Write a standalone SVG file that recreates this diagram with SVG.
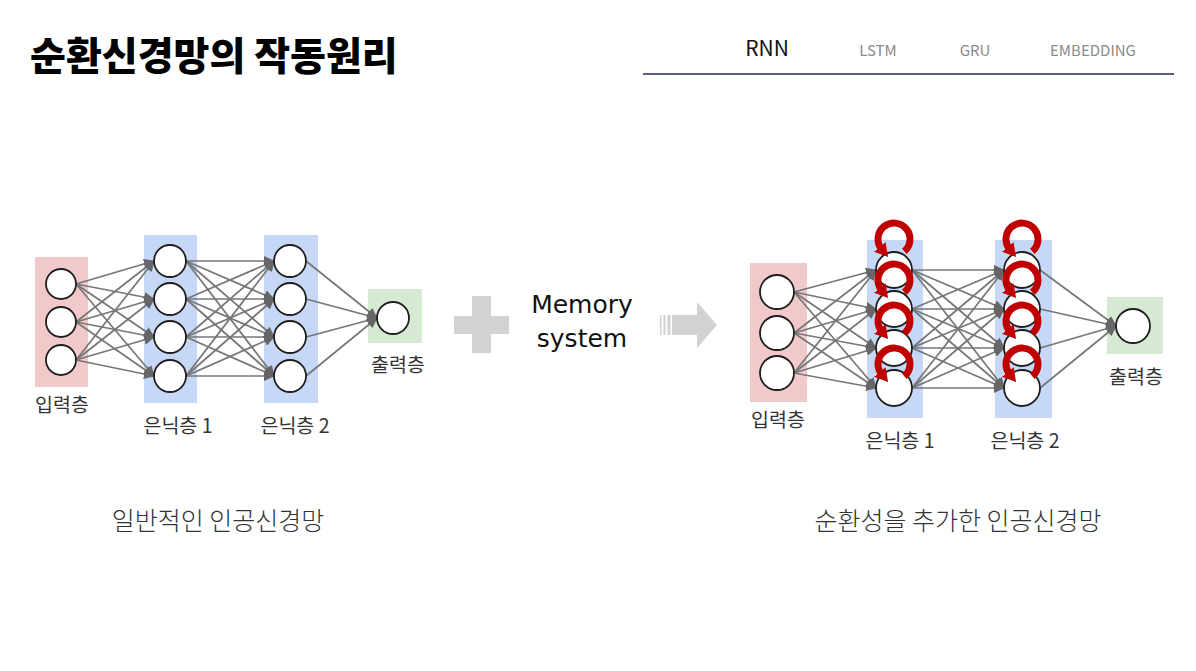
<svg xmlns="http://www.w3.org/2000/svg" width="1196" height="671" viewBox="0 0 1196 671">
<style>
.kr{font-family:"Noto Sans CJK KR","Noto Sans",sans-serif;}
.lbl{font-family:"Noto Sans CJK KR",sans-serif;font-size:19.5px;fill:#333;text-anchor:middle;}
.cap{font-family:"Noto Sans CJK KR",sans-serif;font-size:25px;font-weight:300;fill:#333;text-anchor:middle;}
.nav{font-family:"Noto Sans CJK KR","Noto Sans",sans-serif;font-size:15px;fill:#8a8a8a;text-anchor:middle;}
.e{stroke:#767676;stroke-width:1.7;fill:none;marker-end:url(#ah);}
.n{fill:#fff;stroke:#1e1e1e;stroke-width:1.8;}
.loop{fill:none;stroke:#c00000;stroke-width:7;marker-end:url(#rh);}
.pink{fill:#f2c9ca;}
.blue{fill:#c6d8f5;}
.green{fill:#d6e9d2;}
.gray{fill:#d2d2d2;}
</style>
<defs>
<marker id="ah" markerUnits="userSpaceOnUse" markerWidth="11" markerHeight="10" refX="10" refY="5" orient="auto">
<path d="M0,0 L11,5 L0,10 z" fill="#666"/>
</marker>
<marker id="rh" markerUnits="userSpaceOnUse" markerWidth="15" markerHeight="15" refX="3" refY="7.5" orient="auto">
<path d="M0,0 L13,7.5 L0,15 z" fill="#c00000"/>
</marker>
</defs>
<rect width="1196" height="671" fill="#fff"/>

<g id="title">
<text x="30" y="70" class="kr" font-size="39" font-weight="900" fill="#000">순환신경망의 작동원리</text>
</g>
<g id="nav">
<text x="767" y="56" class="nav" style="font-size:21px;fill:#111">RNN</text>
<text x="878" y="56" class="nav">LSTM</text>
<text x="975" y="56" class="nav">GRU</text>
<text x="1093" y="56" class="nav">EMBEDDING</text>
<line x1="643" y1="74" x2="1174" y2="74" stroke="#252b58" stroke-width="1.6"/>
</g>

<g id="layers">
<rect class="pink" x="35" y="257" width="53" height="130"/>
<rect class="blue" x="144" y="235" width="53" height="168"/>
<rect class="blue" x="264" y="235" width="54" height="168"/>
<rect class="green" x="368" y="289" width="54" height="54"/>
<rect class="pink" x="750" y="263" width="57" height="139"/>
<rect class="blue" x="867" y="240" width="56" height="178"/>
<rect class="blue" x="995" y="240" width="57" height="178"/>
<rect class="green" x="1107" y="297" width="56" height="57"/>
</g>

<g id="connectors">
<line class="e" x1="76" y1="284" x2="154" y2="261"/><line class="e" x1="76" y1="284" x2="154" y2="299"/><line class="e" x1="76" y1="284" x2="154" y2="337"/><line class="e" x1="76" y1="284" x2="154" y2="376"/>
<line class="e" x1="76" y1="322" x2="154" y2="261"/><line class="e" x1="76" y1="322" x2="154" y2="299"/><line class="e" x1="76" y1="322" x2="154" y2="337"/><line class="e" x1="76" y1="322" x2="154" y2="376"/>
<line class="e" x1="76" y1="360" x2="154" y2="261"/><line class="e" x1="76" y1="360" x2="154" y2="299"/><line class="e" x1="76" y1="360" x2="154" y2="337"/><line class="e" x1="76" y1="360" x2="154" y2="376"/>
<line class="e" x1="186" y1="261" x2="274" y2="261"/><line class="e" x1="186" y1="261" x2="274" y2="299"/><line class="e" x1="186" y1="261" x2="274" y2="337"/><line class="e" x1="186" y1="261" x2="274" y2="376"/>
<line class="e" x1="186" y1="299" x2="274" y2="261"/><line class="e" x1="186" y1="299" x2="274" y2="299"/><line class="e" x1="186" y1="299" x2="274" y2="337"/><line class="e" x1="186" y1="299" x2="274" y2="376"/>
<line class="e" x1="186" y1="337" x2="274" y2="261"/><line class="e" x1="186" y1="337" x2="274" y2="299"/><line class="e" x1="186" y1="337" x2="274" y2="337"/><line class="e" x1="186" y1="337" x2="274" y2="376"/>
<line class="e" x1="186" y1="376" x2="274" y2="261"/><line class="e" x1="186" y1="376" x2="274" y2="299"/><line class="e" x1="186" y1="376" x2="274" y2="337"/><line class="e" x1="186" y1="376" x2="274" y2="376"/>
<line class="e" x1="306" y1="261" x2="377" y2="318"/><line class="e" x1="306" y1="299" x2="377" y2="318"/><line class="e" x1="306" y1="337" x2="377" y2="318"/><line class="e" x1="306" y1="376" x2="377" y2="318"/>
<line class="e" x1="794" y1="292" x2="876" y2="270"/><line class="e" x1="794" y1="292" x2="876" y2="309"/><line class="e" x1="794" y1="292" x2="876" y2="348"/><line class="e" x1="794" y1="292" x2="876" y2="388"/>
<line class="e" x1="794" y1="333" x2="876" y2="270"/><line class="e" x1="794" y1="333" x2="876" y2="309"/><line class="e" x1="794" y1="333" x2="876" y2="348"/><line class="e" x1="794" y1="333" x2="876" y2="388"/>
<line class="e" x1="794" y1="373" x2="876" y2="270"/><line class="e" x1="794" y1="373" x2="876" y2="309"/><line class="e" x1="794" y1="373" x2="876" y2="348"/><line class="e" x1="794" y1="373" x2="876" y2="388"/>
<line class="e" x1="912" y1="270" x2="1004" y2="270"/><line class="e" x1="912" y1="270" x2="1004" y2="309"/><line class="e" x1="912" y1="270" x2="1004" y2="348"/><line class="e" x1="912" y1="270" x2="1004" y2="388"/>
<line class="e" x1="912" y1="309" x2="1004" y2="270"/><line class="e" x1="912" y1="309" x2="1004" y2="309"/><line class="e" x1="912" y1="309" x2="1004" y2="348"/><line class="e" x1="912" y1="309" x2="1004" y2="388"/>
<line class="e" x1="912" y1="348" x2="1004" y2="270"/><line class="e" x1="912" y1="348" x2="1004" y2="309"/><line class="e" x1="912" y1="348" x2="1004" y2="348"/><line class="e" x1="912" y1="348" x2="1004" y2="388"/>
<line class="e" x1="912" y1="388" x2="1004" y2="270"/><line class="e" x1="912" y1="388" x2="1004" y2="309"/><line class="e" x1="912" y1="388" x2="1004" y2="348"/><line class="e" x1="912" y1="388" x2="1004" y2="388"/>
<line class="e" x1="1040" y1="270" x2="1116" y2="326"/><line class="e" x1="1040" y1="309" x2="1116" y2="326"/><line class="e" x1="1040" y1="348" x2="1116" y2="326"/><line class="e" x1="1040" y1="388" x2="1116" y2="326"/>
</g>

<g id="L-in1"><circle class="n" cx="61" cy="284" r="15"/></g>
<g id="L-in2"><circle class="n" cx="61" cy="322" r="15"/></g>
<g id="L-in3"><circle class="n" cx="61" cy="360" r="15"/></g>
<g id="L-h1a"><circle class="n" cx="170" cy="261" r="16"/></g>
<g id="L-h1b"><circle class="n" cx="170" cy="299" r="16"/></g>
<g id="L-h1c"><circle class="n" cx="170" cy="337" r="16"/></g>
<g id="L-h1d"><circle class="n" cx="170" cy="376" r="16"/></g>
<g id="L-h2a"><circle class="n" cx="290" cy="261" r="16"/></g>
<g id="L-h2b"><circle class="n" cx="290" cy="299" r="16"/></g>
<g id="L-h2c"><circle class="n" cx="290" cy="337" r="16"/></g>
<g id="L-h2d"><circle class="n" cx="290" cy="376" r="16"/></g>
<g id="L-out"><circle class="n" cx="393" cy="318" r="16"/></g>

<g id="R-in1"><circle class="n" cx="777" cy="292" r="17"/></g>
<g id="R-in2"><circle class="n" cx="777" cy="333" r="17"/></g>
<g id="R-in3"><circle class="n" cx="777" cy="373" r="17"/></g>
<g id="R-h1a"><circle class="n" cx="894" cy="270" r="18"/><path class="loop" transform="translate(894,239)" d="M10.3,12.3 A16,16 0 1 0 -12.3,10.3"/></g>
<g id="R-h1b"><circle class="n" cx="894" cy="309" r="18"/><path class="loop" transform="translate(894,280)" d="M10.3,12.3 A16,16 0 1 0 -12.3,10.3"/></g>
<g id="R-h1c"><circle class="n" cx="894" cy="348" r="18"/><path class="loop" transform="translate(894,321)" d="M10.3,12.3 A16,16 0 1 0 -12.3,10.3"/></g>
<g id="R-h1d"><circle class="n" cx="894" cy="388" r="18"/><path class="loop" transform="translate(894,364)" d="M10.3,12.3 A16,16 0 1 0 -12.3,10.3"/></g>
<g id="R-h2a"><circle class="n" cx="1022" cy="270" r="18"/><path class="loop" transform="translate(1022,239)" d="M10.3,12.3 A16,16 0 1 0 -12.3,10.3"/></g>
<g id="R-h2b"><circle class="n" cx="1022" cy="309" r="18"/><path class="loop" transform="translate(1022,280)" d="M10.3,12.3 A16,16 0 1 0 -12.3,10.3"/></g>
<g id="R-h2c"><circle class="n" cx="1022" cy="348" r="18"/><path class="loop" transform="translate(1022,321)" d="M10.3,12.3 A16,16 0 1 0 -12.3,10.3"/></g>
<g id="R-h2d"><circle class="n" cx="1022" cy="388" r="18"/><path class="loop" transform="translate(1022,364)" d="M10.3,12.3 A16,16 0 1 0 -12.3,10.3"/></g>
<g id="R-out"><circle class="n" cx="1133" cy="326" r="17"/></g>

<g id="labels">
<text class="lbl" x="62" y="412">입력층</text>
<text class="lbl" x="178" y="433">은닉층 1</text>
<text class="lbl" x="295" y="433">은닉층 2</text>
<text class="lbl" x="398" y="372">출력층</text>
<text class="lbl" x="778" y="427">입력층</text>
<text class="lbl" x="900" y="448">은닉층 1</text>
<text class="lbl" x="1025" y="448">은닉층 2</text>
<text class="lbl" x="1136" y="384">출력층</text>
</g>

<g id="plus">
<rect class="gray" x="472" y="296" width="19" height="57"/>
<rect class="gray" x="454" y="316" width="55" height="18"/>
</g>
<g id="memory">
<text x="582" y="313" font-family="DejaVu Sans, sans-serif" font-size="25" fill="#111" text-anchor="middle">Memory</text>
<text x="582" y="347" font-family="DejaVu Sans, sans-serif" font-size="25" fill="#111" text-anchor="middle">system</text>
</g>
<g id="bigarrow">
<rect class="gray" x="660" y="315" width="1.5" height="20"/>
<rect class="gray" x="663.5" y="315" width="2" height="20"/>
<rect class="gray" x="667.5" y="315" width="3" height="20"/>
<path class="gray" d="M672,315 L697,315 L697,302 L717,325 L697,348 L697,335 L672,335 z"/>
</g>

<g id="captions">
<text class="cap" x="218" y="530">일반적인 인공신경망</text>
<text class="cap" x="958" y="530">순환성을 추가한 인공신경망</text>
</g>
</svg>
